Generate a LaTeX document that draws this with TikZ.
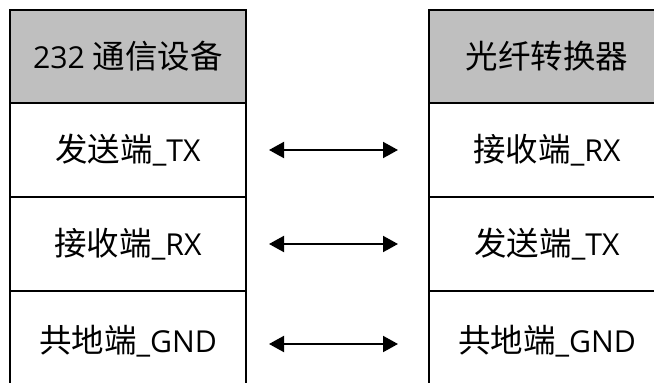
\documentclass[tikz,border=0pt]{standalone}
\usepackage{fontspec}
\setmainfont{Open Sans}[Scale=0.93]
\newfontfamily\cjk{Noto Sans CJK SC}
\usetikzlibrary{arrows.meta}
\definecolor{headgray}{HTML}{BFBFBF}
\begin{document}
\begin{tikzpicture}[x=1pt,y=-1pt,
  cell/.style={draw,line width=2pt,minimum width=236pt,minimum height=94pt,inner sep=0pt,outer sep=0pt,
    anchor=north west,font=\fontsize{32.5}{38}\selectfont},
  head/.style={cell,fill=headgray,minimum height=93pt},
  lastcell/.style={cell,minimum height=100pt},
  link/.style={{Triangle[length=15pt,width=16pt]}-{Triangle[length=15pt,width=16pt]},line width=2pt,
    shorten <=23pt,shorten >=31pt}]
\useasboundingbox (0,0) rectangle (654,383);
\clip (0,0) rectangle (654,383);
% left device
\node[head]     (lh) at (10,10)  {232 {\cjk 通信设备}};
\node[cell]     (l1) at (10,103) {{\cjk 发送端}\_TX};
\node[cell]     (l2) at (10,197) {{\cjk 接收端}\_RX};
\node[lastcell] (l3) at (10,291) {{\cjk 共地端}\_GND};
% right device
\node[head]     (rh) at (429,10)  {{\cjk 光纤转换器}};
\node[cell]     (r1) at (429,103) {{\cjk 接收端}\_RX};
\node[cell]     (r2) at (429,197) {{\cjk 发送端}\_TX};
\node[lastcell] (r3) at (429,291) {{\cjk 共地端}\_GND};
% links
\draw[link] (l1.east) -- (r1.west);
\draw[link] (l2.east) -- (r2.west);
\draw[link] ([yshift=-3pt]l3.east) -- ([yshift=-3pt]r3.west);
\end{tikzpicture}
\end{document}
